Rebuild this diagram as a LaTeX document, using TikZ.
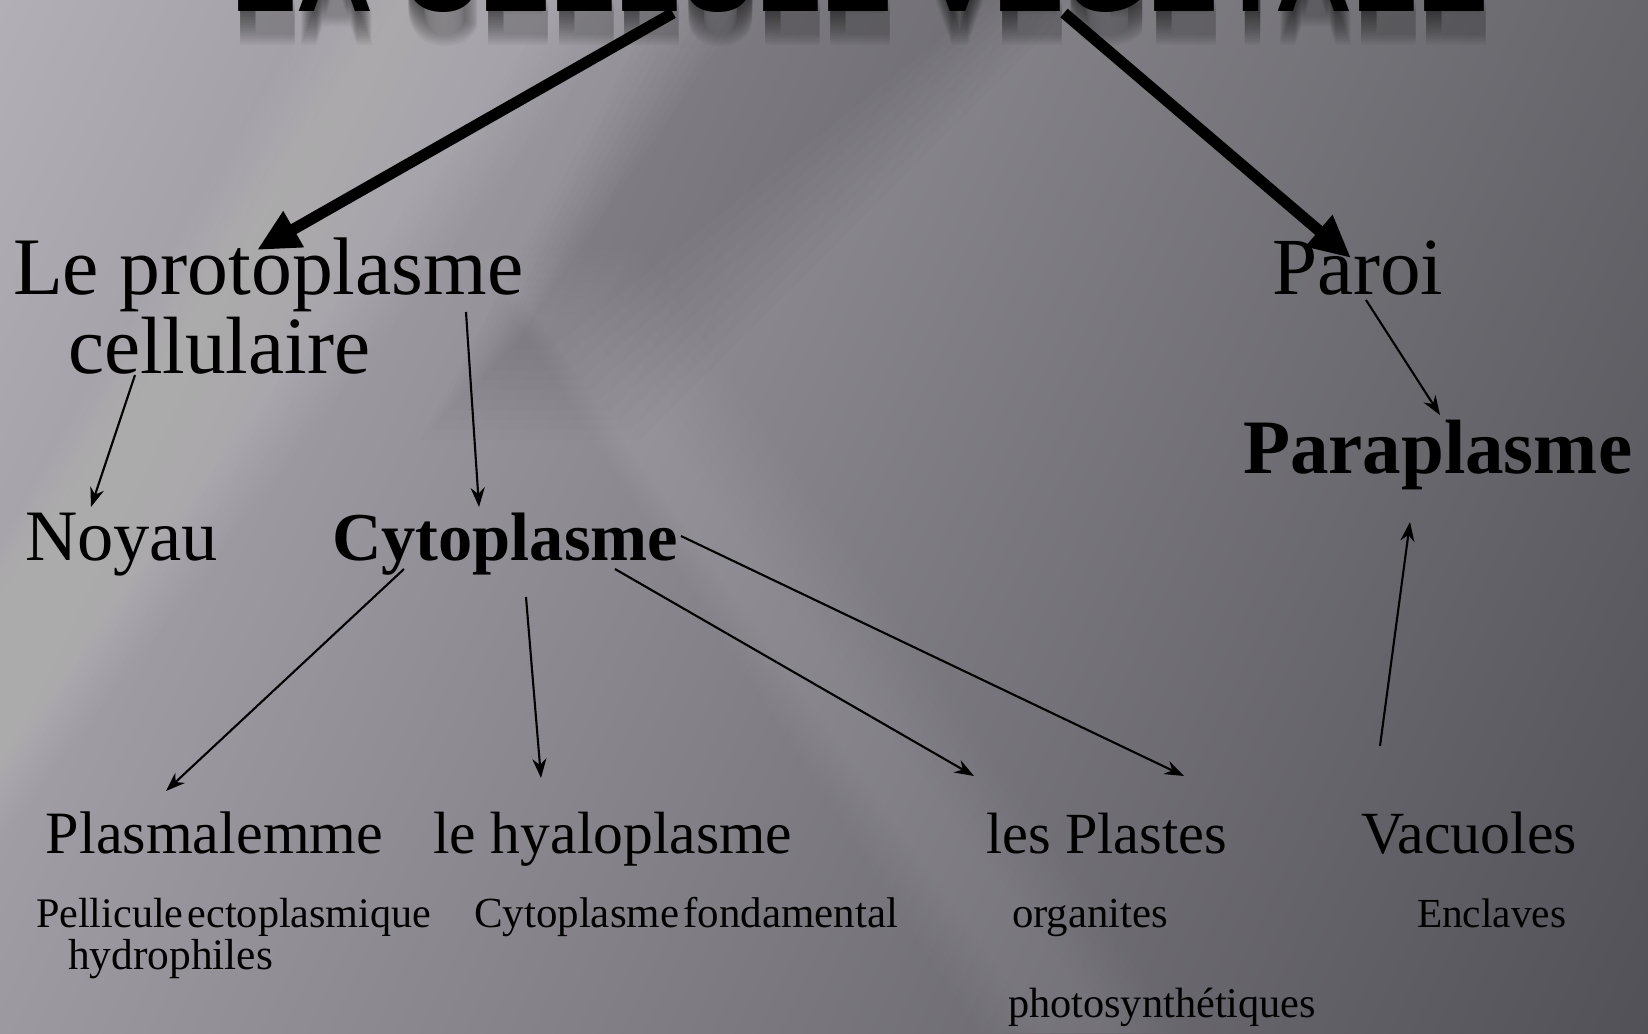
\documentclass[tikz,border=0pt]{standalone}
\usepackage{fontspec}
\setmainfont{Liberation Serif}
\newfontfamily\titlefont{Liberation Sans}
\usetikzlibrary{arrows.meta,shadings}
\definecolor{bgUL}{HTML}{B2B0B6}
\definecolor{bgUR}{HTML}{67666B}
\definecolor{bgLL}{HTML}{9C9AA0}
\definecolor{bgLR}{HTML}{525157}
\newcommand{\fw}[2]{\resizebox{#1}{!}{#2}}
\begin{document}
\begin{tikzpicture}[x=0.01cm,y=-0.01cm,
  lbl/.style={anchor=base west,inner sep=0pt,outer sep=0pt,text=black},
  bigarrow/.style={line width=3.2pt,-{Triangle[length=12pt,width=11pt]}},
  thinarrow/.style={line width=0.6pt,-{Stealth[length=5.5pt,width=4pt]}}]
\useasboundingbox (0,0) rectangle (1648,1033);
\clip (0,0) rectangle (1648,1033);
% background
\shade[upper left=bgUL, upper right=bgUR, lower left=bgLL, lower right=bgLR] (0,0) rectangle (1648,1033);
% light streak from the top towards the lower left
\foreach \k in {0,8,...,80}{
  \fill[white,opacity=0.013] (320+\k,0) -- (640-\k,0) -- (0,840-\k) -- (0,540+\k) -- cycle;
}
% light streak through the middle, towards the lower right
\foreach \k in {0,8,...,64}{
  \fill[white,opacity=0.012] (470+\k,250+\k) -- (640-\k,250+\k) -- (1180-\k,1033) -- (980+\k,1033) -- cycle;
}
% darker area at the upper middle
\foreach \k in {0,10,...,90}{
  \fill[black,opacity=0.012] (660+\k,0) -- (1080-\k,0) -- (640-\k,440-\k) -- (420+\k,440-\k) -- cycle;
}
% title (cut off at top) with soft shadow
\foreach \d in {2,4,...,34}{
  \node[lbl,text opacity=0.035] at (233,11+\d) {\fw{12.56cm}{\titlefont\bfseries LA CELLULE VÉGÉTALE}};
}
\node[lbl] (title) at (231,11) {\fw{12.56cm}{\titlefont\bfseries LA CELLULE VÉGÉTALE}};
% labels
\node[lbl] (proto) at (13,294) {\fw{5.10cm}{Le protoplasme}};
\node[lbl] (cell) at (68,373) {\fw{3.02cm}{cellulaire}};
\node[lbl] (paroi) at (1272,294) {\fw{1.71cm}{Paroi}};
\node[lbl] (para) at (1243,473) {\fw{3.89cm}{\bfseries Paraplasme}};
\node[lbl] (noyau) at (25,560) {\fw{1.93cm}{Noyau}};
\node[lbl] (cyto) at (332,560) {\fw{3.46cm}{\bfseries Cytoplasme}};
\node[lbl] (plasma) at (46,853) {\fw{3.37cm}{Plasmalemme}};
\node[lbl] (hyalo) at (433,853) {\fw{3.59cm}{le hyaloplasme}};
\node[lbl] (plastes) at (986,853) {\fw{2.41cm}{les Plastes}};
\node[lbl] (vacu) at (1361,853) {\fw{2.16cm}{Vacuoles}};
\node[lbl] (pell) at (36,927) {\fw{3.95cm}{Pellicule\hspace{0.1em}ectoplasmique}};
\node[lbl] (hydro) at (68,969) {\fw{2.05cm}{hydrophiles}};
\node[lbl] (cytof) at (474,927) {\fw{4.24cm}{Cytoplasme\hspace{0.1em}fondamental}};
\node[lbl] (organ) at (1012,927) {\fw{1.56cm}{organites}};
\node[lbl] (encl) at (1417,927) {\fw{1.49cm}{Enclaves}};
\node[lbl] (photo) at (1008,1017) {\fw{3.08cm}{photosynthétiques}};
% connectors
\draw[bigarrow] ([shift={(442,2)}]title.base west) -- ([shift={(244,-44)}]proto.base west);
\draw[bigarrow] ([shift={(833,2)}]title.base west) -- ([shift={(79,-36)}]paroi.base west);
\draw[thinarrow] ([shift={(94,6)}]paroi.base west) -- ([shift={(197,-58)}]para.base west);
\draw[thinarrow] ([shift={(67,2)}]cell.base west) -- ([shift={(66,-53)}]noyau.base west);
\draw[thinarrow] ([shift={(453,18)}]proto.base west) -- ([shift={(147,-53)}]cyto.base west);
\draw[thinarrow] ([shift={(72,9)}]cyto.base west) -- ([shift={(120,-62)}]plasma.base west);
\draw[thinarrow] ([shift={(194,37)}]cyto.base west) -- ([shift={(108,-75)}]hyalo.base west);
\draw[thinarrow] ([shift={(283,9)}]cyto.base west) -- ([shift={(-12,-77)}]plastes.base west);
\draw[thinarrow] ([shift={(349,-24)}]cyto.base west) -- ([shift={(198,-77)}]plastes.base west);
\draw[thinarrow] ([shift={(19,-107)}]vacu.base west) -- ([shift={(167,49)}]para.base west);
\end{tikzpicture}
\end{document}
